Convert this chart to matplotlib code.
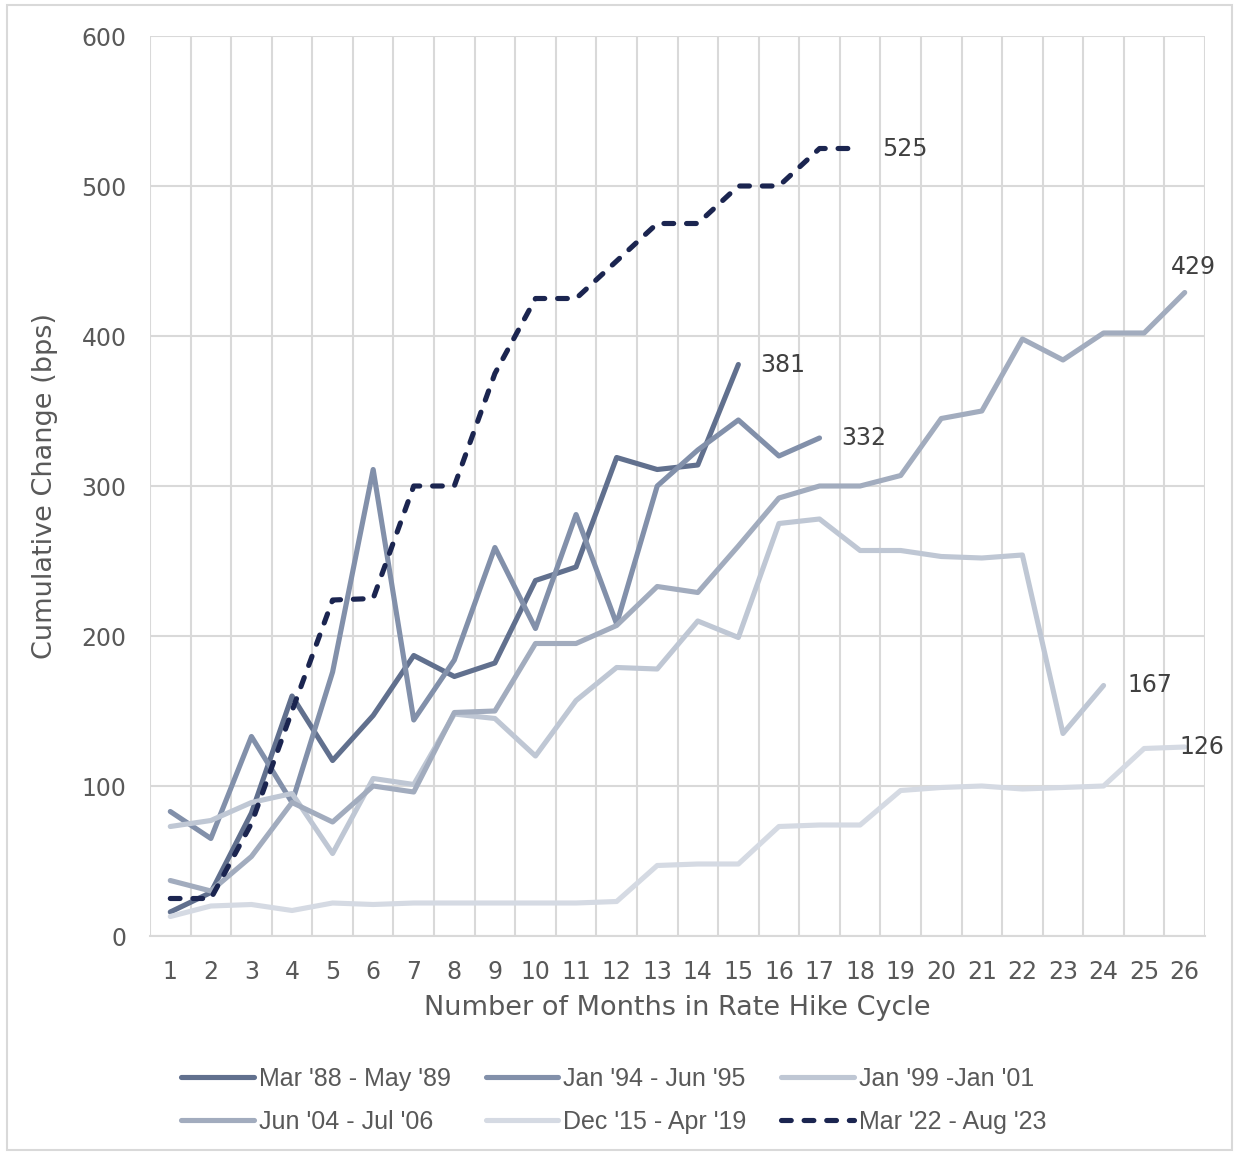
import matplotlib
matplotlib.use("Agg")
import matplotlib.pyplot as plt
from matplotlib.patches import Rectangle
import numpy as np

# cumulative change (bps) by month of each hike cycle
mar88 = [16, 29, 82, 160, 117, 147, 187, 173, 182, 237, 246, 319, 311, 314, 381]
jan94 = [83, 65, 133, 89, 176, 311, 144, 184, 259, 205, 281, 208, 300, 324, 344, 320, 332]
jan99 = [73, 77, 89, 95, 55, 105, 101, 148, 145, 120, 157, 179, 178, 210, 199, 275, 278,
         257, 257, 253, 252, 254, 135, 167]
jun04 = [37, 30, 53, 89, 76, 100, 96, 149, 150, 195, 195, 207, 233, 229, 260, 292, 300,
         300, 307, 345, 350, 398, 384, 402, 402, 429]
dec15 = [13, 20, 21, 17, 22, 21, 22, 22, 22, 22, 22, 23, 47, 48, 48, 73, 74, 74, 97, 99,
         100, 98, 99, 100, 125, 126]
mar22 = [25, 25, 75, 150, 224, 225, 300, 300, 375, 425, 425, 450, 475, 475, 500, 500, 525, 525]

labels = ["Mar '88 - May '89", "Jan '94 - Jun '95", "Jan '99 -Jan '01",
          "Jun '04 - Jul '06", "Dec '15 - Apr '19", "Mar '22 - Aug '23"]
series = [mar88, jan94, jan99, jun04, dec15, mar22]
colors = ["#61708e", "#8290aa", "#bfc7d4", "#a2acbe", "#d5dae3", "#1b2550"]
months = np.arange(1, 27)

fig = plt.figure(figsize=(12.35, 11.52), dpi=100)
fig.patches.append(Rectangle((7 / 1235, 2 / 1152), 1225 / 1235, 1145 / 1152,
                             transform=fig.transFigure, fill=False,
                             edgecolor="#d9d9d9", linewidth=1.5))
ax = fig.add_axes([150 / 1235, 1 - 936 / 1152, 1055 / 1235, 900 / 1152])

lines = []
for vals, lab, col in zip(series, labels, colors):
    x = np.arange(1, len(vals) + 1)
    if lab.startswith("Mar '22"):
        ln, = ax.plot(x, vals, color=col, lw=3.7, ls=(0, (1.9, 2.5)),
                      dash_capstyle="round", label=lab, zorder=5)
    else:
        ln, = ax.plot(x, vals, color=col, lw=3.7, solid_capstyle="round", label=lab)
    lines.append(ln)

# end-of-cycle labels
txt = dict(fontsize=17, color="#404040", va="center")
ax.annotate("525", (18, mar22[-1]), xytext=(16, 0), textcoords="offset points", **txt)
ax.annotate("381", (15, mar88[-1]), xytext=(16, 0), textcoords="offset points", **txt)
ax.annotate("332", (17, jan94[-1]), xytext=(16, 0), textcoords="offset points", **txt)
ax.annotate("429", (26, jun04[-1]), xytext=(6, 18), textcoords="offset points",
            ha="center", **txt)
ax.annotate("167", (24, jan99[-1]), xytext=(17, 0), textcoords="offset points", **txt)
ax.annotate("126", (26, dec15[-1]), xytext=(-4, 0), textcoords="offset points", **txt)

ax.set_xlim(0.5, 26.5)
ax.set_ylim(0, 600)
ax.set_xticks(months)
ax.set_xticks(np.arange(0.5, 27, 1), minor=True)
ax.set_yticks(range(0, 601, 100))
ax.grid(True, which="minor", axis="x", color="#d9d9d9", lw=1.5)
ax.grid(True, which="major", axis="y", color="#d9d9d9", lw=1.5)
ax.set_axisbelow(True)
for s in ["top", "right", "left"]:
    ax.spines[s].set_visible(False)
ax.spines["bottom"].set_color("#d9d9d9")
ax.spines["bottom"].set_linewidth(1.5)
ax.tick_params(which="both", length=0, labelsize=17, labelcolor="#595959")
ax.tick_params(axis="x", pad=17)
ax.tick_params(axis="y", pad=17)
ax.set_xlabel("Number of Months in Rate Hike Cycle", fontsize=19.5, color="#595959", labelpad=8)
ax.set_ylabel("Cumulative Change (bps)", fontsize=19.5, color="#595959", labelpad=17)

order = [0, 3, 1, 4, 2, 5]
fig.legend([lines[i] for i in order], [labels[i] for i in order], ncol=3,
           loc="center", bbox_to_anchor=(0.497, 0.045), frameon=False,
           prop={"family": "Liberation Sans", "size": 18}, labelcolor="#595959",
           handlelength=2.9, handletextpad=0.2, columnspacing=1.4, labelspacing=0.75)

fig.savefig("out.png", dpi=100)
